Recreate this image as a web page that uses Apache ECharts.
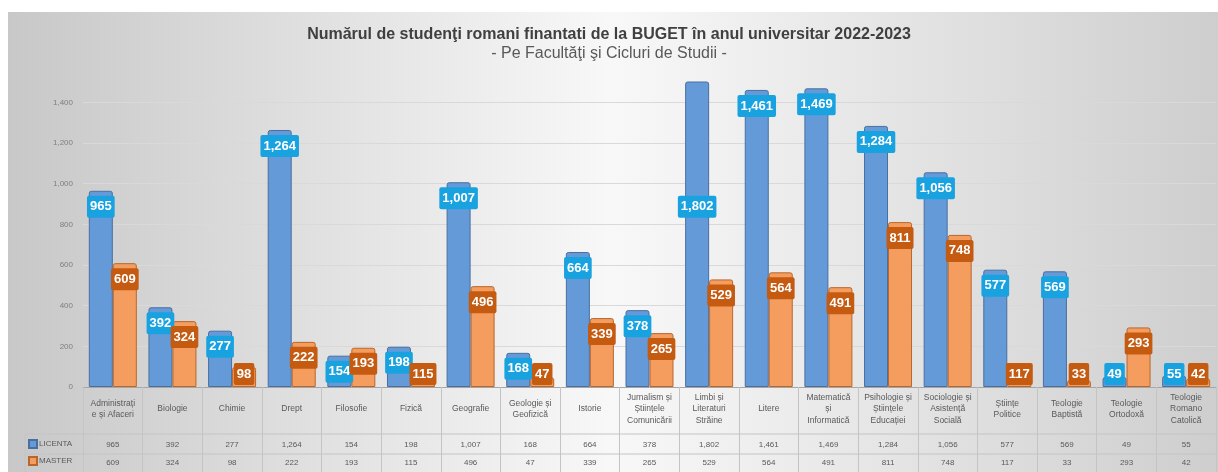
<!DOCTYPE html>
<html>
<head>
<meta charset="utf-8">
<script src="https://cdn.jsdelivr.net/npm/echarts@6/dist/echarts.min.js"></script>
<style>
html,body{margin:0;padding:0;background:#fff;}
#chart{width:1218px;height:472px;}
</style>
</head>
<body>
<div id="chart"></div>
<script>
const categories = [
  'Administrați\ne și Afaceri', 'Biologie', 'Chimie', 'Drept', 'Filosofie', 'Fizică',
  'Geografie', 'Geologie și\nGeofizică', 'Istorie', 'Jurnalism și\nȘtiințele\nComunicării',
  'Limbi și\nLiteraturi\nStrăine', 'Litere', 'Matematică\nși\nInformatică',
  'Psihologie și\nȘtiințele\nEducației', 'Sociologie și\nAsistență\nSocială',
  'Științe\nPolitice', 'Teologie\nBaptistă', 'Teologie\nOrtodoxă', 'Teologie\nRomano\nCatolică'
];
const licenta = [965, 392, 277, 1264, 154, 198, 1007, 168, 664, 378, 1802, 1461, 1469, 1284, 1056, 577, 569, 49, 55];
const master  = [609, 324, 98, 222, 193, 115, 496, 47, 339, 265, 529, 564, 491, 811, 748, 117, 33, 293, 42];
const seriesNames = ['LICENTA', 'MASTER'];
const Y_MIN = 0, Y_MAX = 1500, Y_INTERVAL = 200;

const W = 1218, H = 472;
const GRID_LEFT = 83, GRID_RIGHT = 2, GRID_TOP = 82, GRID_BOTTOM = 85;
const FONT = 'Liberation Sans';
const fmt = v => v.toLocaleString('en-US');

const BLUE = '#659ad9', BLUE_BORDER = '#4a6f9e', BLUE_LABEL = '#19a2e0';
const ORANGE = '#f49d5e', ORANGE_BORDER = '#b8672c', ORANGE_LABEL = '#c55a11';

function items(values) {
  return values.map(v => {
    const it = { value: v };
    if (v > Y_MAX) {
      it.label = { position: ['50%', '41%'], align: 'center', verticalAlign: 'middle' };
    } else if (v < 125) {
      it.label = { position: 'insideBottom', distance: 2 };
    }
    return it;
  });
}

function labelStyle(bg) {
  return {
    show: true, position: 'insideTop', distance: 5,
    formatter: p => fmt(p.value),
    color: '#fff', fontWeight: 'bold', fontSize: 13, fontFamily: FONT,
    backgroundColor: bg, padding: [4, 3, 4, 3], lineHeight: 14, borderRadius: 2
  };
}

const tableBottom = H;
const row1 = 434, row2 = 454;
const plotRight = W - GRID_RIGHT;
const lineStyle = { stroke: '#c4c4c4', lineWidth: 1 };

const chart = echarts.init(document.getElementById('chart'), null, { renderer: 'canvas' });
chart.setOption({
  animation: false,
  textStyle: { fontFamily: FONT },
  graphic: [
    { type: 'rect', z: -10, silent: true, shape: { x: 8, y: 12, width: W - 8, height: H - 12 },
      style: { fill: new echarts.graphic.LinearGradient(0, 0, 1, 0, [
        { offset: 0, color: '#c8c8c8' }, { offset: 0.5, color: '#f8f8f8' }, { offset: 1, color: '#cecece' }
      ]) } },
    { type: 'line', z: 5, silent: true, shape: { x1: 25, y1: row1, x2: plotRight, y2: row1 }, style: lineStyle },
    { type: 'line', z: 5, silent: true, shape: { x1: 25, y1: row2, x2: plotRight, y2: row2 }, style: lineStyle },
    { type: 'line', z: 5, silent: true, shape: { x1: 25, y1: row1, x2: 25, y2: tableBottom }, style: lineStyle }
  ],
  title: {
    text: 'Numărul de studenţi romani finantati de la BUGET în anul universitar 2022-2023',
    subtext: '- Pe Facultăţi şi Cicluri de Studii -',
    left: 'center', top: 22, itemGap: 3, padding: [5, 5, 5, 29],
    textStyle: { fontFamily: FONT, fontSize: 16, fontWeight: 'bold', color: '#404040' },
    subtextStyle: { fontFamily: FONT, fontSize: 16, color: '#595959' }
  },
  legend: {
    data: seriesNames, orient: 'vertical', left: 28, top: 439, padding: 0,
    itemWidth: 8, itemHeight: 8, itemGap: 7, icon: 'rect',
    textStyle: { fontFamily: FONT, fontSize: 8, color: '#595959', padding: [0, 0, 0, -3] }
  },
  grid: { left: GRID_LEFT, right: GRID_RIGHT, top: GRID_TOP, bottom: GRID_BOTTOM, containLabel: false },
  xAxis: [
    {
      type: 'category', data: categories, position: 'bottom',
      axisLine: { show: true, lineStyle: { color: '#a6a6a6', width: 1 } },
      axisTick: { show: true, length: GRID_BOTTOM, interval: 0, lineStyle: { color: '#c4c4c4' } },
      axisLabel: { interval: 0, fontSize: 8.5, lineHeight: 11.5, color: '#595959', verticalAlign: 'middle', margin: 22, fontFamily: FONT }
    },
    {
      type: 'category', data: licenta.map(fmt), position: 'bottom',
      axisLine: { show: false }, axisTick: { show: false },
      axisLabel: { interval: 0, fontSize: 8, color: '#595959', verticalAlign: 'middle', margin: 58, fontFamily: FONT }
    },
    {
      type: 'category', data: master.map(fmt), position: 'bottom',
      axisLine: { show: false }, axisTick: { show: false },
      axisLabel: { interval: 0, fontSize: 8, color: '#595959', verticalAlign: 'middle', margin: 76, fontFamily: FONT }
    }
  ],
  yAxis: {
    type: 'value', min: Y_MIN, max: Y_MAX, interval: Y_INTERVAL,
    axisLine: { show: false }, axisTick: { show: false },
    splitLine: { show: true, showMaxLine: false, lineStyle: { color: '#d9d9d9' } },
    axisLabel: { showMaxLabel: false, fontSize: 8, color: '#7f7f7f', margin: 10, fontFamily: FONT,
      formatter: v => v >= Y_MAX ? '' : fmt(v) }
  },
  series: [
    {
      name: seriesNames[0], type: 'bar', xAxisIndex: 0, barWidth: 24, barGap: '0%',
      data: items(licenta),
      itemStyle: { color: BLUE, borderColor: BLUE_BORDER, borderWidth: 1, borderRadius: [2, 2, 0, 0] },
      label: labelStyle(BLUE_LABEL)
    },
    {
      name: seriesNames[1], type: 'bar', xAxisIndex: 0, barWidth: 24, barGap: '0%',
      data: items(master),
      itemStyle: { color: ORANGE, borderColor: ORANGE_BORDER, borderWidth: 1, borderRadius: [2, 2, 0, 0] },
      label: labelStyle(ORANGE_LABEL)
    }
  ]
});
</script>
</body>
</html>
